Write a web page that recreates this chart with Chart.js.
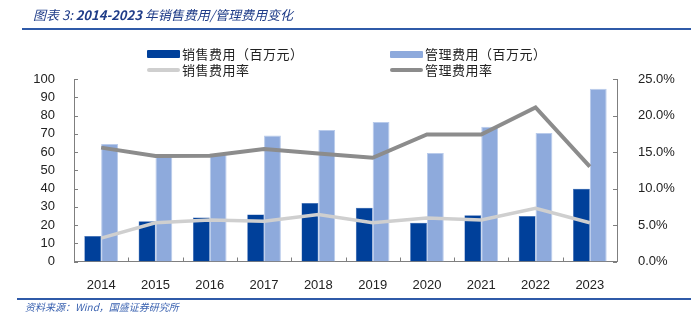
<!DOCTYPE html>
<html>
<head>
<meta charset="utf-8">
<script src="https://cdn.jsdelivr.net/npm/chart.js"></script>
<style>
  html, body { margin: 0; padding: 0; background: #fff; }
  #wrap { position: relative; width: 691px; height: 324px; overflow: hidden; font-family: "Noto Sans CJK SC", sans-serif; }
  #chart { position: absolute; left: 0; top: 0; }
  .title { position: absolute; left: 33px; top: 5px; font-size: 13px; font-style: italic; font-weight: bold; color: #1f3c88; white-space: nowrap; }
  .title .cn { font-weight: normal; }
  .rule { position: absolute; height: 2px; background: #2f5aa8; right: 0; }
  .foot { position: absolute; left: 25px; top: 299px; font-size: 10px; font-style: italic; color: #3a62b0; white-space: nowrap; }
  .lg { position: absolute; font-size: 13px; color: #222; white-space: nowrap; line-height: 16px; }
  .lg i { position: absolute; left: 0; }
  .lg span { position: absolute; top: 0; letter-spacing: 0.5px; }
</style>
</head>
<body>
<div id="wrap">
  <canvas id="chart" width="691" height="324"></canvas>
  <div class="title"><span class="cn">图表 3:</span> 2014-2023 <span class="cn">年销售费用/管理费用变化</span></div>
  <div class="rule" style="left:22px; top:28px;"></div>
  <div id="legend"></div>
  <div class="rule" style="left:17px; top:298px; height:1.5px;"></div>
  <div class="foot">资料来源：Wind，国盛证券研究所</div>
</div>
<script>
// --- dati ---
const years = ["2014", "2015", "2016", "2017", "2018", "2019", "2020", "2021", "2022", "2023"];
const salesExp = [14.0, 22.1, 24.1, 25.7, 32.1, 29.4, 21.3, 25.4, 25.0, 39.8];   // 百万元
const adminExp = [64.4, 58.0, 58.8, 69.0, 72.1, 76.5, 59.4, 73.9, 70.4, 94.6];   // 百万元
const salesRate = [3.2, 5.3, 5.7, 5.5, 6.45, 5.3, 5.95, 5.7, 7.3, 5.3];         // %
const adminRate = [15.6, 14.45, 14.5, 15.4, 14.8, 14.2, 17.4, 17.4, 21.1, 13.0]; // %
const leftTicks = [0, 10, 20, 30, 40, 50, 60, 70, 80, 90, 100];
const rightTicks = [0, 5, 10, 15, 20, 25];

const C_DARK = "#00409a";
const C_LIGHT = "#8eaadc";
const C_LRATE = "#cfcfcf";
const C_DRATE = "#8c8c8c";
const AXIS = "#7f7f7f";
const tickFont = { family: "'Liberation Sans Narrow', 'Liberation Sans', sans-serif", size: 13 };

// tacche interne sugli assi
const innerTicks = {
  id: "innerTicks",
  afterDraw(chart) {
    const { ctx, chartArea: a, scales } = chart;
    ctx.save();
    ctx.strokeStyle = AXIS;
    ctx.lineWidth = 1;
    ctx.beginPath();
    leftTicks.forEach(v => {
      const y = Math.round(scales.y.getPixelForValue(v)) + 0.5;
      ctx.moveTo(a.left, y); ctx.lineTo(a.left + 4, y);
    });
    rightTicks.forEach(v => {
      const y = Math.round(scales.y1.getPixelForValue(v)) + 0.5;
      ctx.moveTo(a.right, y); ctx.lineTo(a.right - 4, y);
    });
    for (let i = 1; i < years.length; i++) {
      const x = Math.round((scales.x.getPixelForValue(i - 1) + scales.x.getPixelForValue(i)) / 2) + 0.5;
      ctx.moveTo(x, a.bottom); ctx.lineTo(x, a.bottom - 4);
    }
    ctx.stroke();
    ctx.restore();
  }
};

const chart = new Chart(document.getElementById("chart"), {
  type: "bar",
  data: {
    labels: years,
    datasets: [
      { label: "销售费用（百万元）", data: salesExp, backgroundColor: C_DARK, borderColor: "#2a5cb0", borderWidth: 0.5, yAxisID: "y", order: 2 },
      { label: "管理费用（百万元）", data: adminExp, backgroundColor: C_LIGHT, borderColor: "#b9cbeb", borderWidth: 1, yAxisID: "y", order: 2 },
      { type: "line", label: "销售费用率", data: salesRate, borderColor: C_LRATE, backgroundColor: C_LRATE, borderWidth: 3.5, pointRadius: 0, tension: 0, yAxisID: "y1", order: 0 },
      { type: "line", label: "管理费用率", data: adminRate, borderColor: C_DRATE, backgroundColor: C_DRATE, borderWidth: 4, pointRadius: 0, tension: 0, yAxisID: "y1", order: 0 }
    ]
  },
  options: {
    responsive: false,
    animation: false,
    layout: { padding: { top: 79, bottom: 32.5, left: 0, right: 0 } },
    plugins: { legend: { display: false }, tooltip: { enabled: false } },
    datasets: { bar: { categoryPercentage: 0.62, barPercentage: 1 } },
    scales: {
      x: {
        grid: { display: false },
        border: { display: true, color: AXIS, width: 1 },
        ticks: { color: "#222", font: tickFont, padding: 8, maxRotation: 0, autoSkip: false },
        afterFit(s) { s.height = 30; }
      },
      y: {
        position: "left",
        min: 0, max: 100,
        afterBuildTicks(s) { s.ticks = leftTicks.map(v => ({ value: v })); },
        grid: { display: false },
        border: { display: true, color: AXIS, width: 1 },
        ticks: { color: "#222", font: tickFont, padding: 11, autoSkip: false },
        afterFit(s) { s.width = 74; }
      },
      y1: {
        position: "right",
        min: 0, max: 25,
        afterBuildTicks(s) { s.ticks = rightTicks.map(v => ({ value: v })); },
        grid: { display: false },
        border: { display: true, color: AXIS, width: 1 },
        ticks: { color: "#222", font: tickFont, padding: 13, autoSkip: false, callback: v => v.toFixed(1) + "%" },
        afterFit(s) { s.width = 74; }
      }
    }
  },
  plugins: [innerTicks]
});

// legenda HTML 2x2
const legendPos = [
  { x: 147, y: 46 }, { x: 390, y: 46 },
  { x: 147, y: 62 }, { x: 390, y: 62 }
];
const lg = document.getElementById("legend");
chart.data.datasets.forEach((ds, i) => {
  const p = legendPos[i];
  const el = document.createElement("div");
  el.className = "lg";
  el.style.left = p.x + "px";
  el.style.top = p.y + "px";
  const isLine = ds.type === "line";
  const sw = document.createElement("i");
  sw.style.width = "33px";
  sw.style.height = isLine ? "4px" : (i === 0 ? "8px" : "7px");
  sw.style.top = isLine ? "6px" : (i === 0 ? "4px" : "5px");
  sw.style.background = isLine ? ds.borderColor : ds.backgroundColor;
  sw.style.borderRadius = isLine ? "2px" : "1px";
  const tx = document.createElement("span");
  tx.style.left = "35px";
  tx.textContent = ds.label;
  el.appendChild(sw);
  el.appendChild(tx);
  lg.appendChild(el);
});
</script>
</body>
</html>
